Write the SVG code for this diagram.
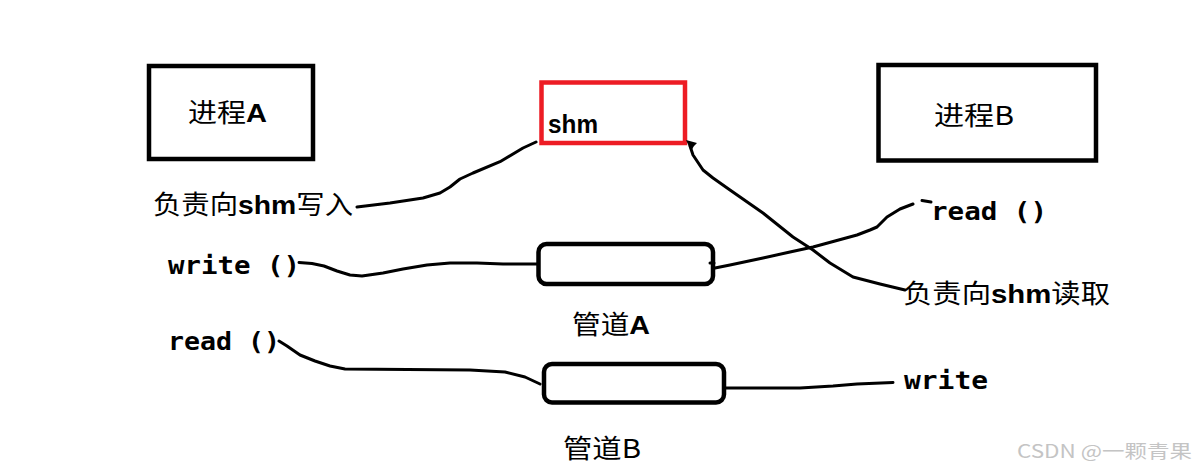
<svg xmlns="http://www.w3.org/2000/svg" width="1195" height="474" viewBox="0 0 1195 474">
<style>
.box{fill:none;stroke:#000;stroke-width:4.5}
.red{fill:none;stroke:#ed1c24;stroke-width:4.5}
.pipe{fill:none;stroke:#000;stroke-width:4.5}
.cn{fill:none;stroke:#000;stroke-width:3;stroke-linejoin:round;stroke-linecap:round}
.cjk{font-family:"Noto Sans CJK SC","Noto Sans",sans-serif;font-size:26px;fill:#000}
.mono{font-family:"DejaVu Sans Mono","Liberation Mono",monospace;font-size:25px;font-weight:bold;fill:#000}
.b{font-family:"Liberation Sans",Arial,sans-serif;font-weight:bold}
</style>
<rect width="1195" height="474" fill="#fff"/>
<g id="procA">
<rect class="box" x="149" y="66" width="164" height="93"/>
<text class="cjk" x="188" y="122" textLength="79" lengthAdjust="spacingAndGlyphs">进程<tspan class="b">A</tspan></text>
</g>
<g id="shm">
<rect class="red" x="541.5" y="82.5" width="143.5" height="60.5"/>
<text class="b" x="548" y="133" font-size="25" fill="#000" textLength="50" lengthAdjust="spacingAndGlyphs">shm</text>
</g>
<g id="procB">
<rect class="box" x="878.5" y="65" width="217.5" height="95.5"/>
<text class="cjk" x="934" y="125" textLength="80" lengthAdjust="spacingAndGlyphs">进程B</text>
</g>
<g id="pipeA">
<rect class="pipe" x="538.5" y="244" width="174.5" height="40" rx="8"/>
<text class="cjk" x="572" y="334" textLength="78" lengthAdjust="spacingAndGlyphs">管道<tspan class="b">A</tspan></text>
</g>
<g id="pipeB">
<rect class="pipe" x="544" y="364" width="180" height="38.5" rx="8"/>
<text class="cjk" x="563" y="458" textLength="78" lengthAdjust="spacingAndGlyphs">管道B</text>
</g>
<g id="labelWriteA"><text class="cjk" x="153" y="214" textLength="200" lengthAdjust="spacingAndGlyphs">负责向<tspan class="b">shm</tspan>写入</text></g>
<g id="labelReadB"><text class="cjk" x="903" y="303" textLength="207" lengthAdjust="spacingAndGlyphs">负责向<tspan class="b">shm</tspan>读取</text></g>
<g id="writeA"><text class="mono" x="168" y="274" textLength="132" lengthAdjust="spacingAndGlyphs">write ()</text></g>
<g id="readA"><text class="mono" x="168" y="350" textLength="112" lengthAdjust="spacingAndGlyphs">read ()</text></g>
<g id="readB"><text class="mono" x="931" y="220" textLength="116" lengthAdjust="spacingAndGlyphs">read ()</text></g>
<g id="writeB"><text class="mono" x="904" y="389" textLength="84" lengthAdjust="spacingAndGlyphs">write</text></g>
<g id="connectors">
<polyline class="cn" points="299,262.5 312,263.5 324,266 337,271 350,275 362,276 383,273 403,269 427,265 450,263 477,263 503,264 537,264"/>
<polyline class="cn" points="279,341 287,346 300,355 315,361 330,366 345,369 470,370 505,372 525,377 540,384"/>
<polyline class="cn" points="715,268 730,265 763,258 790,252 813,247 835,241 857,235 870,230 877,227 887,217 900,209 913,204"/>
<line class="cn" x1="710" y1="263" x2="714" y2="263"/>
<line class="cn" x1="922" y1="200.5" x2="931" y2="202"/>
<polyline class="cn" points="726,388 800,388 833,386 857,384 893,382.5"/>
<polyline class="cn" points="690,146 693,155 703,170 713,178 730,190 763,213 793,237 813,250 830,263 853,277 880,284 905,290"/>
<polygon points="686,140 697,143 694,146 691,151" fill="#000"/>
<polyline class="cn" points="536,142 523,148 500,161.7 473,173 460,179 450,187 440,193 423,198 390,203 357,207"/>
</g>
<g id="watermark"><text x="1017" y="458" font-family="'Noto Sans CJK SC','Noto Sans',sans-serif" font-size="18" fill="#c4c4c4" textLength="175" lengthAdjust="spacingAndGlyphs">CSDN @一颗青果</text></g>
</svg>
